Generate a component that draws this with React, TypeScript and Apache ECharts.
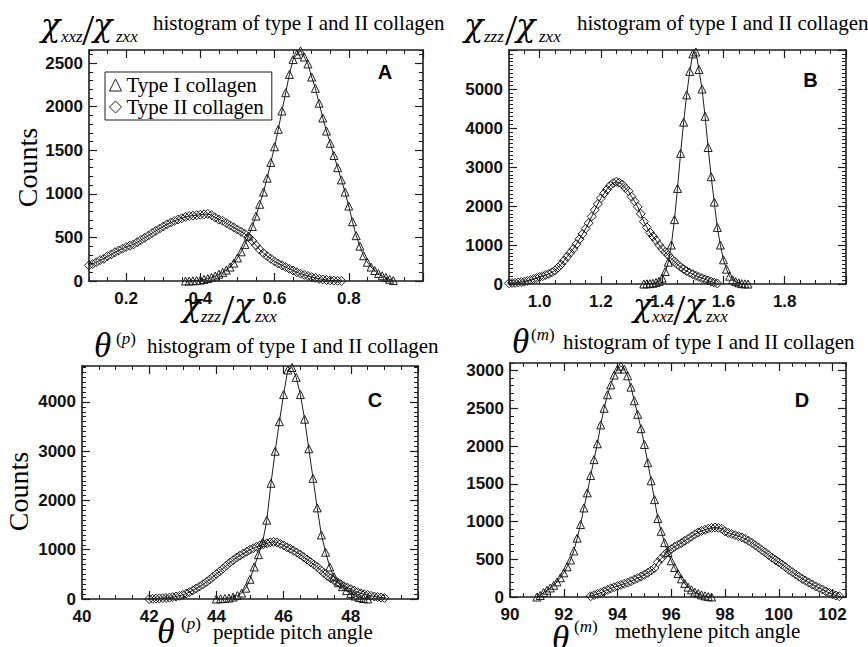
import React, { useEffect, useRef } from "react";
import * as echarts from "echarts";

const SERIF = '"Liberation Serif", "Times New Roman", serif';
const GREEK = '"DejaVu Serif", "Liberation Serif", serif';
const SANS = '"Liberation Sans", Arial, sans-serif';
const INK = "#1e1e1e";

const typeIName = "Type I collagen";
const typeIIName = "Type II collagen";

// ---- Panel A : chi_xxz / chi_zxx ----
const aTypeIStart = 0.36;
const aTypeIStep = 0.01;
const aTypeICounts = [0, 0, 2, 5, 10, 18, 28, 42, 58, 78, 100, 125, 160, 205, 265, 335, 420, 515, 625, 745, 880, 1020, 1180, 1360, 1540, 1740, 1950, 2160, 2370, 2540, 2600, 2640, 2570, 2490, 2340, 2210, 2040, 1870, 1720, 1580, 1440, 1300, 1160, 1020, 860, 680, 520, 400, 290, 215, 160, 120, 85, 60, 40, 20, 5];
const aTypeIIStart = 0.1;
const aTypeIIStep = 0.01;
const aTypeIICounts = [180, 195, 215, 240, 255, 285, 305, 330, 350, 370, 390, 405, 420, 445, 470, 495, 520, 550, 575, 600, 625, 650, 670, 690, 705, 720, 735, 745, 750, 755, 760, 765, 770, 755, 730, 705, 690, 665, 640, 615, 590, 565, 540, 505, 460, 410, 360, 320, 285, 255, 225, 200, 180, 160, 140, 120, 100, 85, 70, 58, 45, 35, 25, 18, 12, 8, 4, 2, 1];
const aXTicks = [0.2, 0.4, 0.6, 0.8, 1.0];
const aXLabels = [0.2, 0.4, 0.6, 0.8];
const aYTicks = [0, 500, 1000, 1500, 2000, 2500];

// ---- Panel B : chi_zzz / chi_zxx ----
const bTypeIStart = 1.34;
const bTypeIStep = 0.01;
const bTypeICounts = [0, 5, 10, 20, 40, 70, 150, 320, 560, 1000, 1650, 2450, 3350, 4150, 4850, 5450, 5900, 5950, 5500, 5000, 4300, 3500, 2750, 2100, 1450, 1000, 620, 380, 200, 110, 60, 30, 10, 3, 0];
const bTypeIIStart = 0.9;
const bTypeIIStep = 0.01;
const bTypeIICounts = [20, 25, 30, 40, 50, 60, 80, 100, 125, 150, 180, 200, 230, 260, 300, 350, 420, 500, 600, 700, 800, 900, 1020, 1150, 1280, 1420, 1560, 1730, 1900, 2050, 2200, 2320, 2420, 2520, 2590, 2620, 2600, 2550, 2460, 2380, 2240, 2120, 1980, 1800, 1600, 1450, 1320, 1220, 1120, 1000, 900, 820, 740, 650, 580, 500, 440, 380, 330, 290, 250, 210, 180, 150, 120, 90, 60, 35, 15];
const bXTicks = [1.0, 1.2, 1.4, 1.6, 1.8, 2.0];
const bXLabels = [1.0, 1.2, 1.4, 1.6, 1.8];
const bYTicks = [0, 1000, 2000, 3000, 4000, 5000, 6000];
const bYLabels = [0, 1000, 2000, 3000, 4000, 5000];

// ---- Panel C : peptide pitch angle ----
const cTypeIStart = 44.0;
const cTypeIStep = 0.125;
const cTypeICounts = [0, 5, 10, 20, 40, 70, 120, 220, 400, 650, 900, 1150, 1600, 2350, 3000, 3600, 4150, 4650, 4700, 4500, 4150, 3650, 3050, 2450, 1850, 1300, 950, 650, 450, 330, 250, 170, 110, 60, 30, 10, 0];
const cTypeIIStart = 42.0;
const cTypeIIStep = 0.1;
const cTypeIICounts = [0, 5, 8, 12, 15, 20, 28, 38, 50, 65, 85, 110, 140, 175, 215, 255, 300, 345, 395, 450, 510, 560, 620, 680, 740, 790, 840, 880, 920, 960, 1000, 1030, 1060, 1090, 1110, 1130, 1150, 1160, 1150, 1120, 1090, 1050, 1020, 980, 940, 900, 850, 800, 750, 700, 650, 590, 530, 470, 420, 380, 340, 300, 260, 230, 200, 170, 140, 115, 95, 80, 65, 50, 40, 30, 20];
const cXTicks = [40, 42, 44, 46, 48, 50];
const cXLabels = [40, 42, 44, 46, 48];
const cYTicks = [0, 1000, 2000, 3000, 4000];

// ---- Panel D : methylene pitch angle ----
const dTypeIStart = 91.0;
const dTypeIStep = 0.125;
const dTypeICounts = [0, 20, 60, 90, 120, 155, 200, 255, 320, 400, 490, 610, 780, 960, 1180, 1380, 1610, 1820, 2030, 2280, 2500, 2680, 2810, 2940, 3020, 3060, 3020, 2930, 2780, 2600, 2420, 2230, 2020, 1780, 1540, 1290, 1040, 870, 720, 590, 480, 390, 310, 240, 180, 130, 95, 65, 45, 28, 15, 5, 0];
const dTypeIIStart = 93.0;
const dTypeIIStep = 0.125;
const dTypeIICounts = [10, 25, 40, 55, 75, 95, 115, 130, 145, 160, 175, 190, 210, 230, 250, 270, 295, 320, 350, 385, 460, 510, 560, 600, 635, 665, 690, 715, 745, 770, 800, 830, 855, 875, 890, 905, 915, 920, 915, 905, 870, 850, 835, 820, 805, 790, 770, 745, 715, 685, 655, 620, 590, 555, 520, 490, 460, 430, 395, 360, 330, 300, 270, 240, 215, 190, 165, 140, 120, 100, 75, 55, 35, 20, 10];
const dXTicks = [90, 92, 94, 96, 98, 100, 102];
const dYTicks = [0, 500, 1000, 1500, 2000, 2500, 3000];

function bins(start: number, step: number, counts: number[]) {
  return counts.map((c, i) => [Number((start + i * step).toFixed(4)), c]);
}

type AxisSpec = { min: number; max: number; majors: number[]; labels: number[]; minor: number; digits: number };

const panels = [
  {
    grid: { left: 89, top: 50, width: 334, height: 231 },
    x: { min: 0.1, max: 1.0, majors: aXTicks, labels: aXLabels, minor: 0.05, digits: 1 },
    y: { min: 0, max: 2650, majors: aYTicks, labels: aYTicks, minor: 100, digits: 0 },
    t1: bins(aTypeIStart, aTypeIStep, aTypeICounts),
    t2: bins(aTypeIIStart, aTypeIIStep, aTypeIICounts),
  },
  {
    grid: { left: 509, top: 50, width: 337, height: 234 },
    x: { min: 0.9, max: 2.0, majors: bXTicks, labels: bXLabels, minor: 0.05, digits: 1 },
    y: { min: 0, max: 6000, majors: bYTicks, labels: bYLabels, minor: 100, digits: 0 },
    t1: bins(bTypeIStart, bTypeIStep, bTypeICounts),
    t2: bins(bTypeIIStart, bTypeIIStep, bTypeIICounts),
  },
  {
    grid: { left: 82, top: 366, width: 336, height: 233 },
    x: { min: 40, max: 50, majors: cXTicks, labels: cXLabels, minor: 0.5, digits: 0 },
    y: { min: 0, max: 4730, majors: cYTicks, labels: cYTicks, minor: 100, digits: 0 },
    t1: bins(cTypeIStart, cTypeIStep, cTypeICounts),
    t2: bins(cTypeIIStart, cTypeIIStep, cTypeIICounts),
  },
  {
    grid: { left: 510, top: 363, width: 336, height: 234 },
    x: { min: 90, max: 102.5, majors: dXTicks, labels: dXTicks, minor: 0.5, digits: 0 },
    y: { min: 0, max: 3100, majors: dYTicks, labels: dYTicks, minor: 100, digits: 0 },
    t1: bins(dTypeIStart, dTypeIStep, dTypeICounts),
    t2: bins(dTypeIIStart, dTypeIIStep, dTypeIICounts),
  },
];

function axes(dim: "x" | "y", gridIndex: number, spec: AxisSpec) {
  const common = {
    type: "value",
    gridIndex,
    min: spec.min,
    max: spec.max,
    splitLine: { show: false },
    splitArea: { show: false },
  };
  const sides = dim === "x" ? ["bottom", "top"] : ["left", "right"];
  const out: any[] = [];
  sides.forEach((pos, si) => {
    out.push({
      ...common,
      position: pos,
      axisLine: { show: true, onZero: false, lineStyle: { color: INK, width: 1.6 } },
      axisTick: { show: true, inside: true, length: 8, customValues: spec.majors, lineStyle: { color: INK, width: 1.2 } },
      axisLabel:
        si === 0
          ? {
              show: true,
              customValues: spec.labels,
              formatter: (v: number) => (spec.digits ? Number(v).toFixed(spec.digits) : String(Math.round(v))),
              margin: dim === "x" ? 9 : 6,
              fontFamily: SANS,
              fontSize: 17,
              fontWeight: "bold",
              color: "#111",
            }
          : { show: false },
    });
    out.push({
      ...common,
      position: pos,
      interval: spec.minor,
      axisLine: { show: false, onZero: false },
      axisTick: { show: true, inside: true, length: 4, lineStyle: { color: INK, width: 1 } },
      axisLabel: { show: false },
    });
  });
  return out;
}

const hollow = { color: "rgba(255,255,255,0)", borderColor: INK, borderWidth: 1 };

function line(name: string, g: number, data: number[][], symbol: string, size: number) {
  return {
    type: "line",
    name,
    xAxisIndex: 4 * g,
    yAxisIndex: 4 * g,
    data,
    symbol,
    symbolSize: size,
    showSymbol: true,
    showAllSymbol: true,
    clip: false,
    lineStyle: { color: INK, width: 1 },
    itemStyle: hollow,
    emphasis: { disabled: true },
  };
}

function T(x: number, y: number, text: string, fontSize: number, o: any = {}) {
  return {
    type: "text",
    x,
    y,
    rotation: o.rotation || 0,
    z: 100,
    silent: true,
    style: {
      text,
      fill: "#000",
      fontSize,
      fontFamily: o.family || SERIF,
      fontStyle: o.italic ? "italic" : "normal",
      fontWeight: o.bold ? "bold" : "normal",
      textAlign: o.align || "left",
      textVerticalAlign: "middle",
      align: o.align || "left",
      verticalAlign: "middle",
      rich: o.rich,
    },
  };
}

const supRich = {
  u: { fontSize: 17, fontFamily: SERIF, fill: "#000" },
  i: { fontSize: 17, fontFamily: SERIF, fontStyle: "italic", fill: "#000" },
};

function chiRatio(x0: number, midY: number, subA: string, subB: string, offs: number[]) {
  return [
    T(x0, midY, "χ", 32, { italic: true, family: GREEK }),
    T(x0 + offs[0], midY + 11, subA, 17, { italic: true }),
    T(x0 + offs[1], midY + 5.7, "/", 44),
    T(x0 + offs[2], midY, "χ", 32, { italic: true, family: GREEK }),
    T(x0 + offs[3], midY + 11, subB, 17, { italic: true }),
  ];
}

export default function App() {
  const ref = useRef<HTMLDivElement>(null);
  useEffect(() => {
    if (!ref.current) return;
    const chart = echarts.init(ref.current, undefined, { renderer: "svg" });
    const xAxis: any[] = [];
    const yAxis: any[] = [];
    const series: any[] = [];
    panels.forEach((p, g) => {
      xAxis.push(...axes("x", g, p.x));
      yAxis.push(...axes("y", g, p.y));
      series.push(line(typeIIName, g, p.t2, "diamond", 9));
      series.push(line(typeIName, g, p.t1, "triangle", 8));
    });
    const graphic = [
      ...chiRatio(41, 25, "xxz", "zxx", [20, 41, 52, 75]),
      T(153, 23.4, "histogram of type I and II collagen", 21),
      ...chiRatio(464, 25, "zzz", "zxx", [20, 41, 52, 75]),
      T(577, 23.4, "histogram of type I and II collagen", 21),
      ...chiRatio(182, 305, "zzz", "zxx", [19, 40, 52, 73]),
      ...chiRatio(633, 305, "xxz", "zxx", [19, 40, 52, 73]),
      T(94, 345.5, "θ", 35, { italic: true }),
      T(116, 338, "{u|(}{i|p}{u|)}", 17, { rich: supRich }),
      T(147, 346.3, "histogram of type I and II collagen", 21),
      T(512, 341, "θ", 35, { italic: true }),
      T(531, 334, "{u|(}{i|m}{u|)}", 17, { rich: supRich }),
      T(563, 341.8, "histogram of type I and II collagen", 21),
      T(157, 630.5, "θ", 36, { italic: true }),
      T(181, 623, "{u|(}{i|p}{u|)}", 17, { rich: supRich }),
      T(213, 631.5, "peptide pitch angle", 21),
      T(552, 638, "θ", 35, { italic: true }),
      T(574, 626, "{u|(}{i|m}{u|)}", 17, { rich: supRich }),
      T(615, 631, "methylene pitch angle", 21),
      T(27.5, 167.5, "Counts", 28, { rotation: Math.PI / 2, align: "center" }),
      T(18.5, 491.5, "Counts", 28, { rotation: Math.PI / 2, align: "center" }),
      T(385, 71.5, "A", 20, { family: SANS, bold: true, align: "center" }),
      T(810.5, 79.5, "B", 20, { family: SANS, bold: true, align: "center" }),
      T(375, 400, "C", 20, { family: SANS, bold: true, align: "center" }),
      T(802, 399.5, "D", 20, { family: SANS, bold: true, align: "center" }),
    ];
    chart.setOption({
      animation: false,
      backgroundColor: "#fff",
      grid: panels.map((p) => ({ ...p.grid, containLabel: false })),
      xAxis,
      yAxis,
      series,
      legend: {
        show: true,
        orient: "vertical",
        left: 105,
        top: 72,
        padding: [2, 8, 2, 4],
        itemGap: 0,
        itemWidth: 12,
        itemHeight: 12,
        selectedMode: false,
        borderColor: INK,
        borderWidth: 1,
        backgroundColor: "#fff",
        textStyle: { fontFamily: SERIF, fontSize: 21, color: "#000", lineHeight: 22 },
        data: [
          { name: typeIName, icon: "triangle", itemStyle: hollow },
          { name: typeIIName, icon: "diamond", itemStyle: hollow },
        ],
      },
      graphic,
    });
    return () => chart.dispose();
  }, []);
  return (
    <div
      ref={ref}
      style={{ position: "fixed", left: 0, top: 0, width: 868, height: 647, background: "#fff" }}
    />
  );
}
